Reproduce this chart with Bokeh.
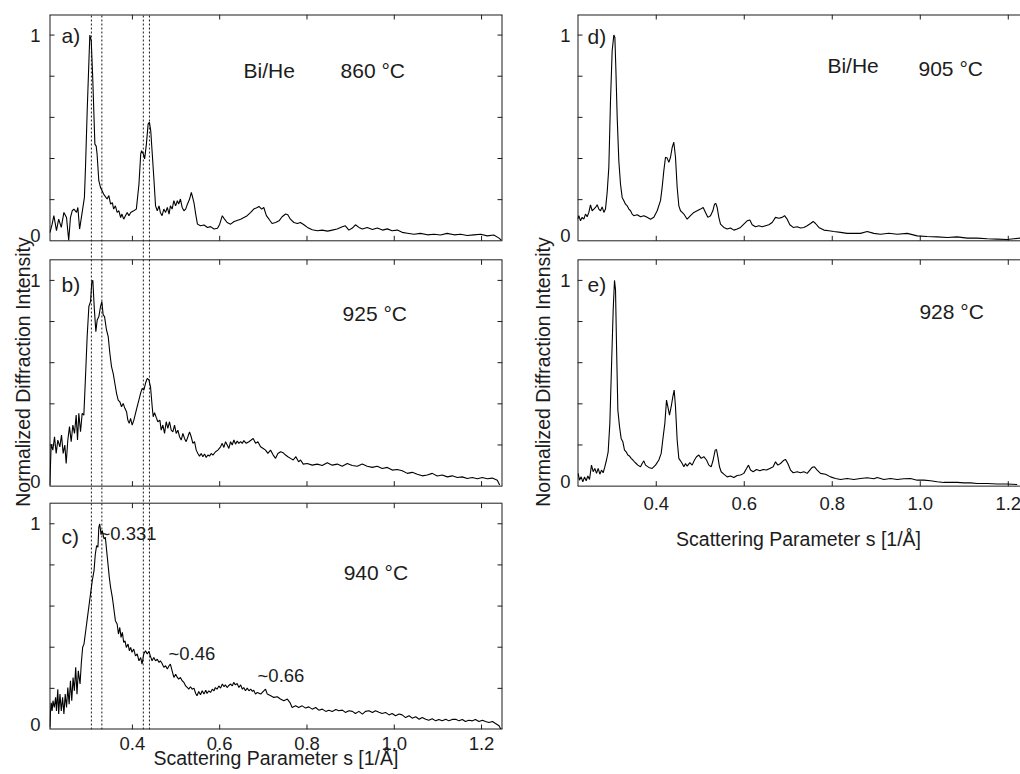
import math
from bokeh.plotting import figure
from bokeh.models import Range1d, FixedTicker, LinearAxis, Label
from bokeh.layouts import row
from bokeh.embed import file_html
from bokeh.resources import INLINE

# ------------------------------------------------------------------ data
# a) Bi/He 860 C
s_a = [0.211, 0.216, 0.220, 0.226, 0.231, 0.237, 0.243, 0.249, 0.254, 0.258, 0.262, 0.266, 0.272, 0.275,
       0.279, 0.283, 0.286, 0.290, 0.2925, 0.2964, 0.3024, 0.3056, 0.309, 0.314, 0.317, 0.319, 0.323, 0.327,
       0.334, 0.342, 0.346, 0.350, 0.354, 0.357, 0.361, 0.365, 0.369, 0.373, 0.376, 0.380, 0.384, 0.388,
       0.392, 0.396, 0.403, 0.409, 0.415, 0.419, 0.421, 0.425, 0.428, 0.432, 0.436, 0.439, 0.442, 0.445,
       0.449, 0.453, 0.457, 0.461, 0.464, 0.468, 0.472, 0.476, 0.480, 0.484, 0.487, 0.491, 0.495, 0.499,
       0.503, 0.506, 0.510, 0.514, 0.518, 0.522, 0.526, 0.531, 0.535, 0.538, 0.541, 0.545, 0.549, 0.556,
       0.564, 0.572, 0.579, 0.587, 0.595, 0.600, 0.606, 0.611, 0.617, 0.625, 0.633, 0.648, 0.663, 0.671,
       0.678, 0.686, 0.690, 0.696, 0.701, 0.707, 0.713, 0.720, 0.728, 0.736, 0.743, 0.751, 0.756, 0.762,
       0.770, 0.778, 0.785, 0.793, 0.801, 0.812, 0.824, 0.835, 0.847, 0.858, 0.869, 0.881, 0.888, 0.896,
       0.904, 0.911, 0.919, 0.927, 0.938, 0.950, 0.961, 0.973, 0.984, 0.995, 1.007, 1.018, 1.030, 1.045,
       1.060, 1.076, 1.091, 1.106, 1.121, 1.137, 1.152, 1.167, 1.182, 1.198, 1.213, 1.228, 1.240, 1.245]
int_a = [0.040, 0.081, 0.122, 0.049, 0.105, 0.065, 0.138, 0.113, 0.003, 0.113, 0.146, 0.154, 0.138, 0.162,
         0.057, 0.113, 0.154, 0.211, 0.357, 0.633, 1.000, 0.973, 0.795, 0.470, 0.460, 0.422, 0.292, 0.259,
         0.227, 0.203, 0.220, 0.178, 0.186, 0.154, 0.170, 0.138, 0.146, 0.113, 0.130, 0.105, 0.122, 0.138,
         0.122, 0.138, 0.146, 0.154, 0.276, 0.422, 0.438, 0.422, 0.398, 0.470, 0.568, 0.576, 0.535, 0.438,
         0.308, 0.170, 0.146, 0.170, 0.138, 0.122, 0.154, 0.138, 0.162, 0.130, 0.170, 0.154, 0.195, 0.170,
         0.195, 0.178, 0.203, 0.162, 0.146, 0.154, 0.178, 0.203, 0.235, 0.211, 0.186, 0.130, 0.081, 0.073,
         0.077, 0.065, 0.069, 0.057, 0.061, 0.081, 0.122, 0.105, 0.089, 0.081, 0.094, 0.105, 0.122, 0.138,
         0.154, 0.162, 0.167, 0.154, 0.162, 0.122, 0.105, 0.084, 0.089, 0.097, 0.117, 0.130, 0.127, 0.105,
         0.089, 0.084, 0.089, 0.078, 0.065, 0.054, 0.049, 0.052, 0.047, 0.052, 0.057, 0.068, 0.073, 0.052,
         0.062, 0.078, 0.065, 0.057, 0.065, 0.055, 0.062, 0.052, 0.058, 0.049, 0.052, 0.041, 0.037, 0.032,
         0.036, 0.029, 0.032, 0.028, 0.036, 0.029, 0.032, 0.026, 0.029, 0.032, 0.024, 0.028, 0.013, 0.003]

# b) 925 C
s_b = [0.2108, 0.2138, 0.2176, 0.2215, 0.2253, 0.2291, 0.2337, 0.2375, 0.2413, 0.2451, 0.2482, 0.2520,
       0.2558, 0.2597, 0.2635, 0.2673, 0.2711, 0.2742, 0.2772, 0.2811, 0.2849, 0.2887, 0.2925, 0.2963,
       0.3002, 0.3040, 0.3070, 0.3093, 0.3124, 0.3162, 0.3193, 0.3231, 0.3269, 0.3299, 0.3330, 0.3361,
       0.3406, 0.3445, 0.3483, 0.3521, 0.3559, 0.3597, 0.3636, 0.3674, 0.3712, 0.3750, 0.3788, 0.3827,
       0.3865, 0.3895, 0.3926, 0.3957, 0.3995, 0.4033, 0.4071, 0.4109, 0.4148, 0.4186, 0.4224, 0.4262,
       0.4300, 0.4339, 0.4377, 0.4415, 0.4453, 0.4476, 0.4507, 0.4545, 0.4583, 0.4629, 0.4659, 0.4698,
       0.4736, 0.4774, 0.4812, 0.4850, 0.4889, 0.4927, 0.4965, 0.5003, 0.5041, 0.5080, 0.5118, 0.5156,
       0.5194, 0.5232, 0.5271, 0.5309, 0.5347, 0.5385, 0.5423, 0.5462, 0.5500, 0.5538, 0.5576, 0.5614,
       0.5653, 0.5691, 0.5729, 0.5767, 0.5805, 0.5844, 0.5905, 0.5958, 0.6019, 0.6058, 0.6096, 0.6134,
       0.6172, 0.6210, 0.6249, 0.6287, 0.6325, 0.6363, 0.6401, 0.6440, 0.6478, 0.6516, 0.6554, 0.6608,
       0.6669, 0.6722, 0.6768, 0.6822, 0.6875, 0.6936, 0.6997, 0.7051, 0.7104, 0.7165, 0.7226, 0.7280,
       0.7333, 0.7395, 0.7456, 0.7509, 0.7563, 0.7624, 0.7685, 0.7746, 0.7807, 0.7853, 0.7914, 0.8006,
       0.8120, 0.8235, 0.8350, 0.8464, 0.8579, 0.8693, 0.8808, 0.8923, 0.9037, 0.9152, 0.9266, 0.9381,
       0.9496, 0.9610, 0.9725, 0.9839, 0.9954, 1.0069, 1.0183, 1.0298, 1.0412, 1.0527, 1.0642, 1.0756,
       1.0871, 1.0985, 1.1100, 1.1215, 1.1329, 1.1444, 1.1558, 1.1673, 1.1788, 1.1902, 1.2017, 1.2131,
       1.2246, 1.2361, 1.2414]
int_b = [0.005, 0.204, 0.175, 0.240, 0.159, 0.224, 0.191, 0.248, 0.159, 0.200, 0.110, 0.224,
         0.289, 0.216, 0.297, 0.256, 0.345, 0.224, 0.354, 0.264, 0.354, 0.345, 0.532, 0.727,
         0.873, 0.897, 0.994, 1.000, 0.873, 0.751, 0.808, 0.824, 0.873, 0.897, 0.832, 0.824,
         0.759, 0.727, 0.646, 0.581, 0.548, 0.500, 0.451, 0.418, 0.410, 0.386, 0.402, 0.378,
         0.362, 0.321, 0.305, 0.329, 0.297, 0.321, 0.354, 0.386, 0.418, 0.451, 0.475, 0.467,
         0.500, 0.524, 0.516, 0.483, 0.386, 0.337, 0.357, 0.334, 0.313, 0.321, 0.272, 0.297,
         0.256, 0.313, 0.281, 0.313, 0.272, 0.264, 0.297, 0.256, 0.272, 0.240, 0.224, 0.256,
         0.232, 0.216, 0.240, 0.264, 0.240, 0.208, 0.216, 0.175, 0.159, 0.146, 0.159, 0.143,
         0.156, 0.139, 0.151, 0.146, 0.159, 0.151, 0.167, 0.175, 0.191, 0.208, 0.188, 0.216,
         0.200, 0.183, 0.216, 0.200, 0.224, 0.204, 0.219, 0.208, 0.216, 0.208, 0.221, 0.208,
         0.216, 0.224, 0.232, 0.208, 0.216, 0.191, 0.183, 0.175, 0.159, 0.175, 0.151, 0.135,
         0.159, 0.167, 0.162, 0.151, 0.143, 0.135, 0.127, 0.143, 0.118, 0.127, 0.107, 0.110,
         0.102, 0.107, 0.100, 0.114, 0.102, 0.107, 0.097, 0.110, 0.100, 0.097, 0.107, 0.097,
         0.091, 0.097, 0.086, 0.091, 0.078, 0.081, 0.075, 0.062, 0.067, 0.058, 0.050, 0.054,
         0.062, 0.049, 0.054, 0.045, 0.050, 0.042, 0.045, 0.037, 0.042, 0.036, 0.042, 0.036,
         0.039, 0.029, 0.005]

# c) 940 C
s_c = [0.211, 0.212, 0.214, 0.216, 0.218, 0.221, 0.224, 0.226, 0.229, 0.231, 0.234, 0.237, 0.240, 0.243,
       0.246, 0.249, 0.252, 0.255, 0.258, 0.261, 0.264, 0.267, 0.270, 0.273, 0.276, 0.280, 0.283, 0.286,
       0.289, 0.293, 0.296, 0.300, 0.304, 0.308, 0.312, 0.315, 0.318, 0.321, 0.323, 0.325, 0.328, 0.331,
       0.335, 0.338, 0.341, 0.344, 0.347, 0.350, 0.354, 0.357, 0.361, 0.365, 0.368, 0.371, 0.374, 0.377,
       0.380, 0.383, 0.386, 0.390, 0.393, 0.396, 0.399, 0.403, 0.407, 0.411, 0.415, 0.419, 0.422, 0.426,
       0.430, 0.434, 0.438, 0.441, 0.445, 0.449, 0.453, 0.457, 0.461, 0.464, 0.468, 0.472, 0.476, 0.480,
       0.484, 0.487, 0.491, 0.495, 0.499, 0.503, 0.506, 0.510, 0.514, 0.518, 0.522, 0.526, 0.529, 0.533,
       0.537, 0.541, 0.545, 0.548, 0.552, 0.556, 0.560, 0.564, 0.568, 0.571, 0.575, 0.579, 0.583, 0.587,
       0.590, 0.594, 0.598, 0.602, 0.606, 0.610, 0.613, 0.617, 0.621, 0.625, 0.629, 0.632, 0.636, 0.640,
       0.644, 0.648, 0.652, 0.655, 0.659, 0.663, 0.667, 0.671, 0.675, 0.678, 0.682, 0.686, 0.694, 0.701,
       0.705, 0.709, 0.717, 0.724, 0.732, 0.739, 0.747, 0.755, 0.761, 0.766, 0.774, 0.781, 0.789, 0.797,
       0.804, 0.812, 0.820, 0.827, 0.835, 0.843, 0.850, 0.858, 0.866, 0.873, 0.881, 0.888, 0.896, 0.904,
       0.911, 0.919, 0.927, 0.934, 0.942, 0.950, 0.957, 0.965, 0.972, 0.980, 0.988, 0.995, 1.003, 1.011,
       1.018, 1.026, 1.034, 1.041, 1.049, 1.057, 1.064, 1.072, 1.079, 1.087, 1.095, 1.102, 1.110, 1.118,
       1.125, 1.133, 1.141, 1.148, 1.156, 1.163, 1.171, 1.179, 1.186, 1.194, 1.202, 1.209, 1.217, 1.225,
       1.232, 1.240, 1.244]
int_c = [0.010, 0.075, 0.130, 0.090, 0.140, 0.107, 0.156, 0.090, 0.196, 0.075, 0.172, 0.090, 0.156, 0.075,
         0.172, 0.107, 0.204, 0.123, 0.237, 0.140, 0.253, 0.188, 0.302, 0.172, 0.285, 0.221, 0.326, 0.400,
         0.415, 0.480, 0.529, 0.594, 0.659, 0.723, 0.772, 0.853, 0.894, 0.886, 0.983, 1.000, 0.951, 0.967,
         0.926, 0.934, 0.869, 0.805, 0.740, 0.691, 0.642, 0.594, 0.529, 0.513, 0.464, 0.496, 0.448, 0.472,
         0.423, 0.431, 0.399, 0.415, 0.383, 0.399, 0.375, 0.391, 0.358, 0.367, 0.334, 0.350, 0.318, 0.367,
         0.383, 0.367, 0.380, 0.358, 0.334, 0.350, 0.334, 0.342, 0.326, 0.334, 0.321, 0.302, 0.310, 0.294,
         0.310, 0.318, 0.285, 0.253, 0.269, 0.253, 0.245, 0.253, 0.237, 0.229, 0.212, 0.204, 0.196, 0.208,
         0.196, 0.201, 0.175, 0.164, 0.185, 0.169, 0.188, 0.172, 0.191, 0.175, 0.188, 0.180, 0.196, 0.188,
         0.204, 0.196, 0.212, 0.201, 0.221, 0.208, 0.217, 0.204, 0.214, 0.221, 0.212, 0.229, 0.217, 0.224,
         0.204, 0.217, 0.196, 0.204, 0.188, 0.201, 0.188, 0.196, 0.185, 0.191, 0.172, 0.180, 0.172, 0.188,
         0.196, 0.172, 0.164, 0.156, 0.159, 0.148, 0.140, 0.148, 0.131, 0.107, 0.115, 0.107, 0.115, 0.104,
         0.110, 0.099, 0.107, 0.094, 0.099, 0.088, 0.094, 0.088, 0.097, 0.091, 0.094, 0.083, 0.091, 0.088,
         0.078, 0.088, 0.075, 0.088, 0.091, 0.083, 0.091, 0.084, 0.078, 0.083, 0.071, 0.078, 0.067, 0.075,
         0.071, 0.058, 0.067, 0.055, 0.062, 0.050, 0.058, 0.050, 0.045, 0.052, 0.042, 0.049, 0.042, 0.050,
         0.042, 0.049, 0.050, 0.042, 0.049, 0.039, 0.045, 0.042, 0.049, 0.039, 0.045, 0.039, 0.034, 0.039,
         0.029, 0.018, 0.002]

# d) Bi/He 905 C
s_d = [0.2210, 0.2240, 0.2278, 0.2316, 0.2354, 0.2392, 0.2430, 0.2468, 0.2505, 0.2543, 0.2581, 0.2619,
       0.2657, 0.2695, 0.2733, 0.2771, 0.2809, 0.2846, 0.2884, 0.2922, 0.2960, 0.2998, 0.3036, 0.3059,
       0.3081, 0.3112, 0.3149, 0.3187, 0.3225, 0.3263, 0.3301, 0.3339, 0.3377, 0.3415, 0.3452, 0.3490,
       0.3566, 0.3642, 0.3718, 0.3793, 0.3869, 0.3945, 0.4021, 0.4096, 0.4134, 0.4172, 0.4210, 0.4248,
       0.4286, 0.4324, 0.4362, 0.4399, 0.4437, 0.4475, 0.4513, 0.4551, 0.4589, 0.4627, 0.4702, 0.4778,
       0.4854, 0.4930, 0.5006, 0.5066, 0.5119, 0.5172, 0.5233, 0.5286, 0.5324, 0.5354, 0.5384, 0.5422,
       0.5460, 0.5536, 0.5612, 0.5687, 0.5763, 0.5839, 0.5915, 0.5990, 0.6066, 0.6127, 0.6180, 0.6256,
       0.6331, 0.6407, 0.6483, 0.6559, 0.6634, 0.6710, 0.6786, 0.6862, 0.6915, 0.6975, 0.7036, 0.7112,
       0.7203, 0.7278, 0.7354, 0.7430, 0.7506, 0.7566, 0.7619, 0.7695, 0.7809, 0.7922, 0.8036, 0.8188,
       0.8339, 0.8490, 0.8642, 0.8793, 0.8945, 0.9096, 0.9286, 0.9475, 0.9702, 0.9930, 1.0157, 1.0384,
       1.0612, 1.0839, 1.1066, 1.1294, 1.1521, 1.1748, 1.1976, 1.2127, 1.2278]
int_d = [0.105, 0.122, 0.097, 0.114, 0.105, 0.130, 0.117, 0.138, 0.175, 0.146, 0.154, 0.162,
         0.175, 0.154, 0.146, 0.165, 0.138, 0.154, 0.235, 0.357, 0.681, 0.925, 1.000, 0.990,
         0.843, 0.600, 0.389, 0.276, 0.211, 0.195, 0.178, 0.170, 0.154, 0.146, 0.130, 0.122,
         0.127, 0.117, 0.122, 0.114, 0.105, 0.114, 0.146, 0.195, 0.260, 0.341, 0.406, 0.402,
         0.381, 0.406, 0.454, 0.479, 0.406, 0.260, 0.170, 0.146, 0.138, 0.130, 0.105, 0.122,
         0.138, 0.146, 0.154, 0.162, 0.138, 0.114, 0.122, 0.146, 0.178, 0.182, 0.162, 0.114,
         0.081, 0.065, 0.057, 0.062, 0.052, 0.057, 0.065, 0.081, 0.097, 0.101, 0.078, 0.068,
         0.073, 0.068, 0.073, 0.078, 0.089, 0.114, 0.110, 0.114, 0.122, 0.105, 0.078, 0.065,
         0.068, 0.062, 0.065, 0.073, 0.084, 0.094, 0.084, 0.065, 0.052, 0.049, 0.045, 0.041,
         0.036, 0.037, 0.036, 0.045, 0.036, 0.032, 0.037, 0.032, 0.036, 0.024, 0.021, 0.019,
         0.016, 0.019, 0.013, 0.013, 0.010, 0.008, 0.006, 0.010, 0.013]

# e) 928 C
s_e = [0.2225, 0.2255, 0.2293, 0.2331, 0.2369, 0.2407, 0.2445, 0.2483, 0.2528, 0.2566, 0.2604, 0.2642,
       0.2680, 0.2718, 0.2755, 0.2793, 0.2831, 0.2869, 0.2907, 0.2945, 0.2983, 0.3021, 0.3051, 0.3074,
       0.3096, 0.3127, 0.3165, 0.3202, 0.3240, 0.3278, 0.3316, 0.3354, 0.3392, 0.3430, 0.3468, 0.3505,
       0.3543, 0.3581, 0.3642, 0.3680, 0.3718, 0.3755, 0.3831, 0.3907, 0.3983, 0.4059, 0.4112, 0.4157,
       0.4195, 0.4233, 0.4263, 0.4301, 0.4339, 0.4377, 0.4407, 0.4437, 0.4475, 0.4513, 0.4551, 0.4589,
       0.4627, 0.4665, 0.4702, 0.4763, 0.4816, 0.4869, 0.4915, 0.4968, 0.5021, 0.5081, 0.5142, 0.5195,
       0.5248, 0.5293, 0.5339, 0.5369, 0.5399, 0.5437, 0.5475, 0.5536, 0.5612, 0.5687, 0.5763, 0.5839,
       0.5915, 0.5990, 0.6051, 0.6096, 0.6142, 0.6203, 0.6278, 0.6354, 0.6430, 0.6505, 0.6581, 0.6657,
       0.6710, 0.6763, 0.6824, 0.6884, 0.6937, 0.6990, 0.7051, 0.7112, 0.7203, 0.7278, 0.7354, 0.7430,
       0.7490, 0.7543, 0.7596, 0.7657, 0.7733, 0.7846, 0.7960, 0.8074, 0.8188, 0.8339, 0.8490, 0.8642,
       0.8793, 0.8945, 0.9021, 0.9172, 0.9324, 0.9475, 0.9627, 0.9778, 0.9930, 1.0081, 1.0233, 1.0384,
       1.0536, 1.0687, 1.0839, 1.0990, 1.1142, 1.1294, 1.1521, 1.1748, 1.1976, 1.2202]
int_e = [0.062, 0.029, 0.045, 0.021, 0.045, 0.026, 0.049, 0.032, 0.102, 0.070, 0.086, 0.062,
         0.086, 0.058, 0.078, 0.065, 0.094, 0.127, 0.167, 0.305, 0.581, 0.856, 1.000, 0.954,
         0.694, 0.370, 0.289, 0.232, 0.216, 0.175, 0.167, 0.151, 0.146, 0.135, 0.127, 0.118,
         0.110, 0.102, 0.094, 0.110, 0.123, 0.102, 0.091, 0.086, 0.102, 0.127, 0.159, 0.240,
         0.305, 0.418, 0.386, 0.345, 0.386, 0.435, 0.467, 0.386, 0.224, 0.135, 0.123, 0.110,
         0.094, 0.110, 0.097, 0.114, 0.102, 0.127, 0.143, 0.151, 0.135, 0.143, 0.127, 0.102,
         0.094, 0.127, 0.175, 0.178, 0.143, 0.094, 0.070, 0.058, 0.045, 0.049, 0.042, 0.052,
         0.054, 0.062, 0.086, 0.102, 0.078, 0.070, 0.081, 0.075, 0.081, 0.078, 0.086, 0.094,
         0.118, 0.102, 0.110, 0.123, 0.130, 0.110, 0.078, 0.065, 0.070, 0.065, 0.070, 0.062,
         0.078, 0.091, 0.094, 0.078, 0.062, 0.058, 0.045, 0.037, 0.032, 0.037, 0.032, 0.037,
         0.041, 0.036, 0.042, 0.032, 0.037, 0.032, 0.036, 0.037, 0.029, 0.029, 0.026, 0.021,
         0.018, 0.019, 0.018, 0.016, 0.016, 0.013, 0.013, 0.010, 0.010, 0.008]

x_ticks = [0.4, 0.6, 0.8, 1.0, 1.2]
x_tick_labels = ["0.4", "0.6", "0.8", "1.0", "1.2"]
y_steps = [0.2, 0.4, 0.6, 0.8, 1.0]
ref_lines = [0.306, 0.330, 0.425, 0.439]
left_tags = ["a)", "b)", "c)"]
left_temps = ["860 °C", "925 °C", "940 °C"]
right_tags = ["d)", "e)"]
right_temps = ["905 °C", "928 °C"]
carrier = "Bi/He"
peak_notes = ["~0.331", "~0.46", "~0.66"]
x_title = "Scattering Parameter s [1/Å]"
y_title = "Normalized Diffraction Intensity"

# ------------------------------------------------------------------ style / layout
FONT = "Liberation Sans"
INK = "#1c1c1c"
TICK_FS = "18.5px"
TITLE_FS = "19.5px"
TEXT_FS = "21px"
NOTE_FS = "18.5px"
PANEL_H = 1.1
TICK_PX = 5
FIG_W, FIG_H = 510, 774
BORDER_TOP, BORDER_BOTTOM = 14, 45
Y_TOP = 3.4755                      # common vertical data extent of both columns
BASE_1, BASE_2, BASE_3 = 2.3755, 1.183, 0.0   # bottoms of the stacked panels
TEXT_DY = 0.034                     # baseline correction of Label placement
ZERO_LIFT = 0.024                   # the "0" labels sit slightly above the panel floor


def label(p, text, x, y, size, align="left"):
    p.add_layout(Label(x=x, y=y + TEXT_DY, text=text, text_font=FONT, text_font_size=size,
                       text_color=INK, text_align=align, text_baseline="alphabetic"))


def column_figure(xr, bases, border_left, border_right, right_edge):
    p = figure(width=FIG_W, height=FIG_H, x_range=Range1d(*xr), y_range=Range1d(0, Y_TOP),
               output_backend="svg", toolbar_location=None,
               x_axis_location=None, y_axis_location=None,
               min_border_left=border_left, min_border_right=border_right,
               min_border_top=BORDER_TOP, min_border_bottom=BORDER_BOTTOM)
    p.outline_line_color = None
    p.background_fill_color = "white"
    p.border_fill_color = "white"
    p.xgrid.visible = False
    p.ygrid.visible = False
    p.grid.visible = False
    frame_w = FIG_W - border_left - border_right
    frame_h = FIG_H - BORDER_TOP - BORDER_BOTTOM
    x0, x1 = xr
    tl_y = TICK_PX * Y_TOP / frame_h
    tl_x = TICK_PX * (x1 - x0) / frame_w

    yl, ylab = [], {}
    for b in bases:
        t0, t1 = round(b + ZERO_LIFT, 4), round(b + 1.0, 4)
        yl += [t0, t1]
        ylab[t0] = "0"
        ylab[t1] = "1"
    left = LinearAxis(ticker=FixedTicker(ticks=sorted(yl)), major_label_overrides=ylab,
                      axis_line_color=None, major_tick_in=0, major_tick_out=0,
                      major_tick_line_color=None, minor_tick_line_color=None,
                      major_label_standoff=8, major_label_text_font=FONT,
                      major_label_text_font_size=TICK_FS, major_label_text_color=INK,
                      axis_label=y_title, axis_label_text_font=FONT,
                      axis_label_text_font_size=TITLE_FS, axis_label_text_font_style="normal",
                      axis_label_text_color=INK)
    p.add_layout(left, "left")

    # panel boxes
    ex0, ey0, ex1, ey1 = [], [], [], []      # outer edges (half clipped -> 1 px)
    hx0, hy0, hx1, hy1 = [], [], [], []      # inner horizontal edges
    tx0, ty0, tx1, ty1 = [], [], [], []      # tick marks
    for b in bases:
        top = b + PANEL_H
        ex0 += [x0]; ey0 += [b]; ex1 += [x0]; ey1 += [top]
        if right_edge:
            ex0 += [x1]; ey0 += [b]; ex1 += [x1]; ey1 += [top]
        if b > 1e-9:
            hx0 += [x0]; hy0 += [b]; hx1 += [x1]; hy1 += [b]
        else:
            ex0 += [x0]; ey0 += [b]; ex1 += [x1]; ey1 += [b]
        if top < Y_TOP - 1e-9:
            hx0 += [x0]; hy0 += [top]; hx1 += [x1]; hy1 += [top]
        else:
            ex0 += [x0]; ey0 += [top]; ex1 += [x1]; ey1 += [top]
        for t in x_ticks:
            tx0 += [t, t]; ty0 += [b, top]; tx1 += [t, t]; ty1 += [b + tl_y, top - tl_y]
        for v in y_steps:
            tx0 += [x0]; ty0 += [b + v]; tx1 += [x0 + tl_x]; ty1 += [b + v]
            if right_edge:
                tx0 += [x1]; ty0 += [b + v]; tx1 += [x1 - tl_x]; ty1 += [b + v]
    p.segment(ex0, ey0, ex1, ey1, line_color=INK, line_width=2)
    if hx0:
        p.segment(hx0, hy0, hx1, hy1, line_color=INK, line_width=1)
    p.segment(tx0, ty0, tx1, ty1, line_color=INK, line_width=1)
    return p


# ------------------------------------------------------------------ left column (a, b, c)
L_BASES = [BASE_1, BASE_2, BASE_3]
left_fig = column_figure((0.21, 1.248), L_BASES, 49, 8, True)
left_fig.yaxis[0].axis_label_standoff = -7
left_fig.yaxis[0].major_label_standoff = 9

below = LinearAxis(ticker=FixedTicker(ticks=x_ticks),
                   major_label_overrides={t: s for t, s in zip(x_ticks, x_tick_labels)},
                   axis_line_color=None, major_tick_in=0, major_tick_out=0,
                   major_tick_line_color=None, minor_tick_line_color=None,
                   major_label_standoff=7, major_label_text_font=FONT,
                   major_label_text_font_size=TICK_FS, major_label_text_color=INK,
                   axis_label=x_title, axis_label_standoff=-6, axis_label_text_font=FONT,
                   axis_label_text_font_size=TITLE_FS, axis_label_text_font_style="normal",
                   axis_label_text_color=INK)
left_fig.add_layout(below, "below")

left_fig.segment(ref_lines, [0.0] * len(ref_lines), ref_lines, [Y_TOP] * len(ref_lines),
                 line_color=INK, line_width=1, line_dash="2 2")
for s, v, b in zip([s_a, s_b, s_c], [int_a, int_b, int_c], L_BASES):
    left_fig.line(s, [y + b for y in v], line_color="black", line_width=1.1)

A, B, C = L_BASES
label(left_fig, left_tags[0], 0.2375, A + 0.962, TEXT_FS)
label(left_fig, left_tags[1], 0.2375, B + 0.945, TEXT_FS)
label(left_fig, left_tags[2], 0.2375, C + 0.904, TEXT_FS)
label(left_fig, carrier, 0.6546, A + 0.793, TEXT_FS)
label(left_fig, left_temps[0], 0.877, A + 0.793, TEXT_FS)
label(left_fig, left_temps[1], 0.8816, B + 0.803, TEXT_FS)
label(left_fig, left_temps[2], 0.884, C + 0.730, TEXT_FS)
label(left_fig, peak_notes[0], 0.3246, C + 0.920, NOTE_FS)
label(left_fig, peak_notes[1], 0.4827, C + 0.336, NOTE_FS)
label(left_fig, peak_notes[2], 0.6867, C + 0.229, NOTE_FS)

# ------------------------------------------------------------------ right column (d, e)
R_BASES = [BASE_1, BASE_2]
right_fig = column_figure((0.221, 1.2278), R_BASES, 67, 0, False)
right_fig.yaxis[0].axis_label_standoff = 3
right_fig.yaxis[0].major_label_standoff = 7
for s, v, b in zip([s_d, s_e], [int_d, int_e], R_BASES):
    right_fig.line(s, [y + b for y in v], line_color="black", line_width=1.1)

D, E = R_BASES
label(right_fig, right_tags[0], 0.2437, D + 0.959, TEXT_FS)
label(right_fig, right_tags[1], 0.2437, E + 0.944, TEXT_FS)
label(right_fig, carrier, 0.789, D + 0.818, TEXT_FS)
label(right_fig, right_temps[0], 0.996, D + 0.803, TEXT_FS)
label(right_fig, right_temps[1], 0.998, E + 0.813, TEXT_FS)
# x axis of panel e (panel e ends above the shared frame bottom)
for t, s in zip(x_ticks, x_tick_labels):
    label(right_fig, s, t, E - 0.118, TICK_FS, align="center")
label(right_fig, x_title, 0.7233, E - 0.289, TITLE_FS, align="center")

layout = row(left_fig, right_fig)
open("out.html", "w").write(file_html(layout, INLINE))
